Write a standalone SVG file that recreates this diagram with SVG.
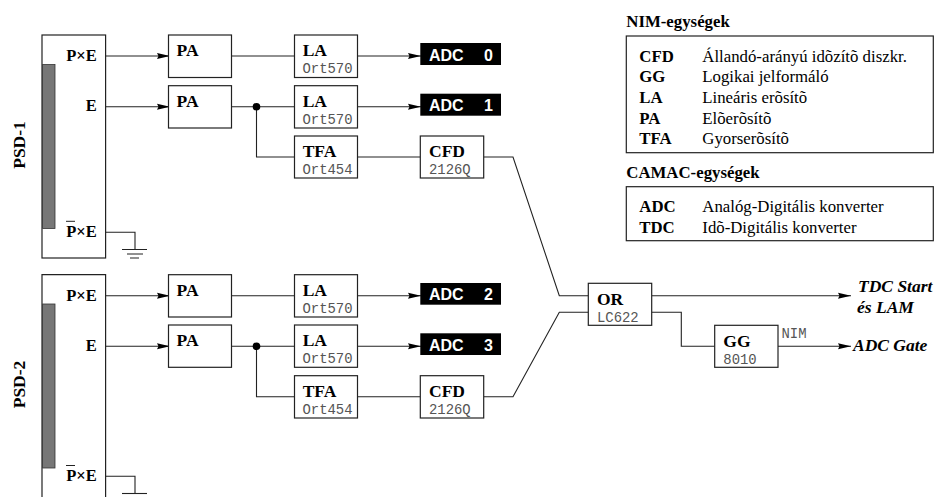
<svg xmlns="http://www.w3.org/2000/svg" width="935" height="497" viewBox="0 0 935 497">
<style>
text{font-family:"Liberation Serif","Times New Roman",serif;fill:#000}
.b{font-weight:bold;font-size:17.5px}
.p{font-weight:bold;font-size:16.5px}
.n{fill:#fff;stroke:#222;stroke-width:1.2}
.m{font-family:"Liberation Mono","Courier New",monospace;font-size:13.9px;fill:#555}
.l{fill:none;stroke:#222;stroke-width:1.1}
.bar{fill:#777;stroke:#333;stroke-width:.8}
.adc{fill:#000}
.at{font-family:"Liberation Sans",Arial,sans-serif;font-weight:bold;font-size:16px;fill:#fff}
.i{font-weight:bold;font-style:italic;font-size:17.5px}
.lg{font-size:16.8px}
.lb{font-size:16.8px;font-weight:bold}
</style>
<defs>
<marker id="a" markerUnits="userSpaceOnUse" markerWidth="14" markerHeight="8" refX="13" refY="4" orient="auto"><path d="M0 1L13 4 0 7 1.5 4Z" fill="#000"/></marker>
</defs>
<rect width="935" height="497" fill="#fff"/>
<g id="connectors" class="conn">
<path class="l" marker-end="url(#a)" d="M105.6 56H170"/>
<path class="l" marker-end="url(#a)" d="M105.6 106.7H170"/>
<path class="l" d="M231.5 56H294.5"/>
<path class="l" d="M231.5 106.7H294.5"/>
<path class="l" d="M256.5 106.7V157H294.5"/>
<path class="l" marker-end="url(#a)" d="M357.5 56H421"/>
<path class="l" marker-end="url(#a)" d="M357.5 106.7H421"/>
<path class="l" d="M357.5 157H420.3"/>
<path class="l" d="M483.7 157H513L559.3 295.7H588.3"/>
<path class="l" d="M105.6 232.3H135V249.3"/>
<path class="l" d="M122 249.5H147M127 254H143M130 258H139"/>
<circle cx="256.5" cy="106.7" r="3.8" fill="#000"/>
<path class="l" marker-end="url(#a)" d="M105.6 295.7H170"/>
<path class="l" marker-end="url(#a)" d="M105.6 346.3H170"/>
<path class="l" d="M231.5 295.7H294.5"/>
<path class="l" d="M231.5 346.3H294.5"/>
<path class="l" d="M256.5 346.3V396.7H294.5"/>
<path class="l" marker-end="url(#a)" d="M357.5 295.7H421"/>
<path class="l" marker-end="url(#a)" d="M357.5 346.3H421"/>
<path class="l" d="M357.5 396.7H420.3"/>
<path class="l" d="M483.7 396.7H513L559.3 312.3H588.3"/>
<path class="l" d="M105.6 476.3H135V493.3"/>
<path class="l" d="M122 493.5H147"/>
<circle cx="256.5" cy="346.3" r="3.8" fill="#000"/>
<path class="l" marker-end="url(#a)" d="M651.7 295.7H851"/>
<path class="l" d="M651.7 312.3H681.3V346.3H714.7"/>
<path class="l" marker-end="url(#a)" d="M778 346.3H851"/>
</g>
<g id="psd1"><rect class="n" x="42" y="35" width="63.6" height="223"/><rect class="bar" x="42.6" y="64.5" width="12.4" height="164"/>
<text class="p" x="96.7" y="60.7" text-anchor="end">P×E</text><text class="p" x="96.7" y="111" text-anchor="end">E</text><text class="p" x="96.7" y="236.7" text-anchor="end">P×E</text><path d="M66 221.3H75" stroke="#222" fill="none"/>
<text class="b" transform="translate(25 145) rotate(-90)" text-anchor="middle">PSD-1</text></g>
<g id="psd2"><path class="n" d="M42 497V274.7H105.6V497"/><rect class="bar" x="42.6" y="304" width="12.4" height="164"/>
<text class="p" x="96.7" y="300.7" text-anchor="end">P×E</text><text class="p" x="96.7" y="351" text-anchor="end">E</text><text class="p" x="96.7" y="481" text-anchor="end">P×E</text><path d="M66 465.5H75" stroke="#222" fill="none"/>
<text class="b" transform="translate(25 384.5) rotate(-90)" text-anchor="middle">PSD-2</text></g>
<g id="pa1"><rect class="n" x="168.5" y="35" width="63" height="42.5"/><text class="b" x="176.5" y="56">PA</text></g>
<g id="pa2"><rect class="n" x="168.5" y="85.7" width="63" height="42.3"/><text class="b" x="176.5" y="106.5">PA</text></g>
<g id="la0"><rect class="n" x="294.5" y="35" width="63" height="42.5"/><text class="b" x="302.7" y="56">LA</text><text class="m" x="302.5" y="73.3">Ort570</text></g>
<g id="la1"><rect class="n" x="294.5" y="85.7" width="63" height="42.3"/><text class="b" x="302.7" y="106.5">LA</text><text class="m" x="302.5" y="124">Ort570</text></g>
<g id="tfa1"><rect class="n" x="294.5" y="136" width="63" height="42"/><text class="b" x="302.7" y="157">TFA</text><text class="m" x="302.5" y="174.3">Ort454</text></g>
<g id="cfd1"><rect class="n" x="420.3" y="136" width="63.4" height="42"/><text class="b" x="429" y="157">CFD</text><text class="m" x="429" y="174.3">2126Q</text></g>
<g id="adc0"><rect class="adc" x="420.3" y="43" width="80.7" height="22"/><text class="at" x="429" y="60.5">ADC</text><text class="at" x="484" y="60.5">0</text></g>
<g id="adc1"><rect class="adc" x="420.3" y="93.7" width="80.7" height="22"/><text class="at" x="429" y="111">ADC</text><text class="at" x="484" y="111">1</text></g>
<g id="pa3"><rect class="n" x="168.5" y="274.7" width="63" height="42.3"/><text class="b" x="176.5" y="296">PA</text></g>
<g id="pa4"><rect class="n" x="168.5" y="325" width="63" height="42.3"/><text class="b" x="176.5" y="346">PA</text></g>
<g id="la2"><rect class="n" x="294.5" y="274.7" width="63" height="42.3"/><text class="b" x="302.7" y="296">LA</text><text class="m" x="302.5" y="313">Ort570</text></g>
<g id="la3"><rect class="n" x="294.5" y="325" width="63" height="42.3"/><text class="b" x="302.7" y="346">LA</text><text class="m" x="302.5" y="363">Ort570</text></g>
<g id="tfa2"><rect class="n" x="294.5" y="375.7" width="63" height="42.3"/><text class="b" x="302.7" y="397">TFA</text><text class="m" x="302.5" y="414">Ort454</text></g>
<g id="cfd2"><rect class="n" x="420.3" y="375.7" width="63.4" height="42.3"/><text class="b" x="429" y="397">CFD</text><text class="m" x="429" y="414">2126Q</text></g>
<g id="adc2"><rect class="adc" x="420.3" y="283" width="80.7" height="21.7"/><text class="at" x="429" y="300">ADC</text><text class="at" x="484" y="300">2</text></g>
<g id="adc3"><rect class="adc" x="420.3" y="333.3" width="80.7" height="21.7"/><text class="at" x="429" y="350.5">ADC</text><text class="at" x="484" y="350.5">3</text></g>
<g id="or"><rect class="n" x="588.3" y="283.3" width="63.4" height="42"/><text class="b" x="597" y="304.5">OR</text><text class="m" x="597" y="321.5">LC622</text></g>
<g id="gg"><rect class="n" x="714.7" y="325.3" width="63.3" height="42"/><text class="b" x="723.3" y="346.5">GG</text><text class="m" x="723.3" y="363.5">8010</text><text class="m" x="781.5" y="338.3">NIM</text></g>
<g id="outputs"><text class="i" x="858" y="291.7">TDC Start</text><text class="i" x="857" y="312.5">és LAM</text><text class="i" x="853" y="350.7">ADC Gate</text></g>
<g id="legend-nim"><text class="lb" x="626.3" y="27">NIM-egységek</text><rect class="n" x="626.3" y="36" width="307" height="116.7"/>
<text class="lb" x="639.3" y="61.7">CFD</text><text class="lg" x="702.3" y="61.7">Állandó-arányú idõzítõ diszkr.</text>
<text class="lb" x="639.3" y="82.3">GG</text><text class="lg" x="702.3" y="82.3">Logikai jelformáló</text>
<text class="lb" x="639.3" y="103">LA</text><text class="lg" x="702.3" y="103">Lineáris erõsítõ</text>
<text class="lb" x="639.3" y="123.5">PA</text><text class="lg" x="702.3" y="123.5">Elõerõsítõ</text>
<text class="lb" x="639.3" y="144.2">TFA</text><text class="lg" x="702.3" y="144.2">Gyorserõsítõ</text></g>
<g id="legend-camac"><text class="lb" x="626.3" y="177.5">CAMAC-egységek</text><rect class="n" x="626.3" y="186.7" width="307" height="54"/>
<text class="lb" x="639.3" y="212">ADC</text><text class="lg" x="702.3" y="212">Analóg-Digitális konverter</text>
<text class="lb" x="639.3" y="232.5">TDC</text><text class="lg" x="702.3" y="232.5">Idõ-Digitális konverter</text></g>
</svg>
